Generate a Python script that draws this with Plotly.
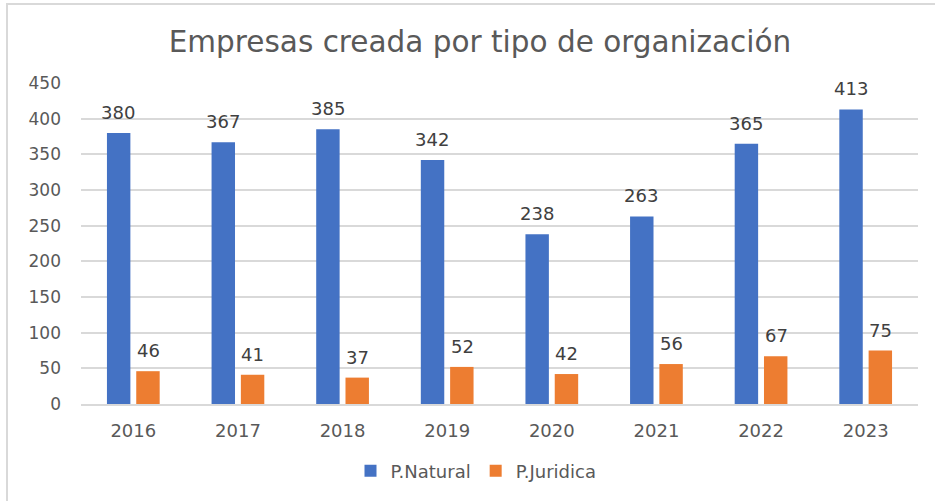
import plotly.graph_objects as go

years = ["2016", "2017", "2018", "2019", "2020", "2021", "2022", "2023"]
natural = [380, 367, 385, 342, 238, 263, 365, 413]
juridica = [46, 41, 37, 52, 42, 56, 67, 75]
series_names = ["P.Natural", "P.Juridica"]
colors = ["#4472C4", "#ED7D31"]

# Target screen layout (pixels of the 935x501 window); body margin is removed below.
W, H = 935, 501
plot_left, plot_right, plot_top, plot_bottom = 81, 918, 83, 404

ml, mt = plot_left, plot_top
mr, mb = W - plot_right, H - plot_bottom
pw, ph = W - ml - mr, H - mt - mb

def px(x):
    return (x - ml) / pw

def py(y):
    return (plot_bottom - y) / ph

fig = go.Figure()
for name, vals, col in zip(series_names, [natural, juridica], colors):
    fig.add_trace(go.Bar(x=years, y=vals, name=name, marker_color=col,
                         marker_line_width=0))

annotations = []
for vals, shift in [(natural, -15), (juridica, 15)]:
    for i, v in enumerate(vals):
        annotations.append(dict(x=i, y=v, xref="x", yref="y", text=str(v),
                                showarrow=False, xshift=shift, yshift=8,
                                yanchor="bottom",
                                font=dict(family="DejaVu Sans", size=18, color="#404040")))

fig.update_layout(
    width=W, height=H,
    margin=dict(l=ml, r=mr, t=mt, b=mb),
    paper_bgcolor="white", plot_bgcolor="white",
    barmode="group", bargap=0.44, bargroupgap=0.2,
    title=dict(text="Empresas creada por tipo de organización",
               xref="container", x=480 / W, xanchor="center",
               yref="container", y=1 - 42 / H, yanchor="middle",
               font=dict(family="DejaVu Sans", size=29.5, color="#595959")),
    xaxis=dict(type="category", showgrid=False, range=[-0.5, len(years) - 0.5],
               tickfont=dict(family="DejaVu Sans", size=18, color="#595959"),
               ticklabelstandoff=9,
               showline=True, linecolor="#d9d9d9", linewidth=2, ticks=""),
    yaxis=dict(range=[0, 450], dtick=50, showgrid=True, gridcolor="#d9d9d9", gridwidth=1.5,
               zeroline=False, tickfont=dict(family="DejaVu Sans", size=17, color="#595959"),
               ticklabelstandoff=19),
    legend=dict(orientation="h", x=px(476), xanchor="center", y=py(471), yanchor="middle",
                font=dict(family="DejaVu Sans", size=18, color="#595959")),
    annotations=annotations,
    shapes=[
        dict(type="line", xref="paper", yref="paper", x0=px(7), x1=px(W + 10), y0=py(4), y1=py(4),
             line=dict(color="#d9d9d9", width=2)),
        dict(type="line", xref="paper", yref="paper", x0=px(7), x1=px(7), y0=py(3), y1=py(H + 10),
             line=dict(color="#d9d9d9", width=2)),
    ],
)

fig.write_html("out.html", config={"displayModeBar": False},
               post_script="document.body.style.margin='0';")
